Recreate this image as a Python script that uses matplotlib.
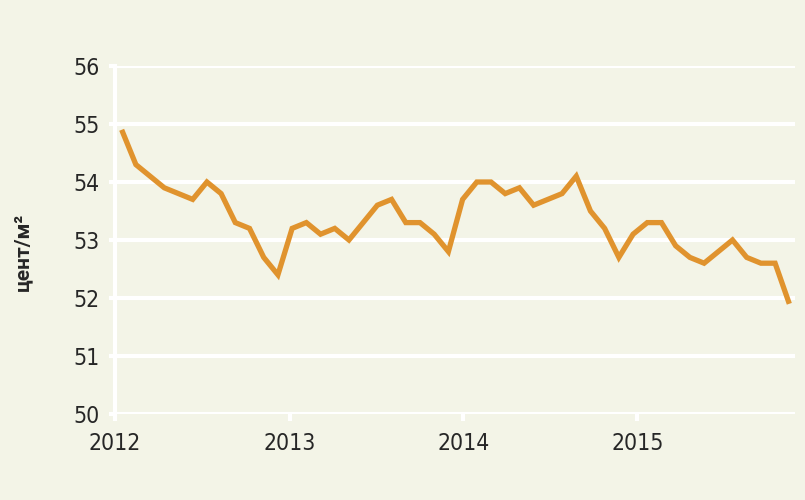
import matplotlib
matplotlib.use("Agg")
import matplotlib.pyplot as plt
from matplotlib import font_manager as fm

# Monthly values, Jan 2012 .. Dec 2015
values = [54.9, 54.3, 54.1, 53.9, 53.8, 53.7, 54.0, 53.8, 53.3, 53.2, 52.7, 52.4,
          53.2, 53.3, 53.1, 53.2, 53.0, 53.3, 53.6, 53.7, 53.3, 53.3, 53.1, 52.8,
          53.7, 54.0, 54.0, 53.8, 53.9, 53.6, 53.7, 53.8, 54.1, 53.5, 53.2, 52.7,
          53.1, 53.3, 53.3, 52.9, 52.7, 52.6, 52.8, 53.0, 52.7, 52.6, 52.6, 51.9]
year_labels = ["2012", "2013", "2014", "2015"]
y_ticks = [50, 51, 52, 53, 54, 55, 56]
y_label = "цент/м²"

months = list(range(len(values)))
year_tick_pos = [-0.47, 11.85, 24.04, 36.3]

bg = "#f3f4e7"
line_color = "#e0932e"

cond = [f for f in fm.fontManager.ttflist
        if ('Narrow' in f.name or 'Condensed' in f.name or 'ondensed' in f.fname)]
regs = [f for f in cond if not any(k in f.fname for k in ('Bold', 'Oblique', 'Italic', 'Light', 'Thin', 'Black', 'Medium'))]
bolds = [f for f in cond if 'Bold' in f.fname and not any(k in f.fname for k in ('Oblique', 'Italic'))]
if regs:
    fp = fm.FontProperties(fname=sorted(regs, key=lambda f: f.fname)[0].fname)
else:
    fp = fm.FontProperties(family='DejaVu Sans')

fig = plt.figure(figsize=(8.05, 5.0), dpi=100, facecolor=bg)
ax = fig.add_axes([115/805, 1-414/500, (795-115)/805, (414-66)/500])
ax.set_facecolor(bg)

ax.set_ylim(50, 56)
ax.set_xlim(-0.47, 47.4)
ax.set_yticks(y_ticks)
ax.set_xticks(year_tick_pos)
ax.set_xticklabels(year_labels)

ax.grid(axis='y', color='white', linewidth=3.0, zorder=1)
ax.set_axisbelow(True)

for s in ['top', 'right', 'bottom']:
    ax.spines[s].set_visible(False)
ax.spines['left'].set_color('white')
ax.spines['left'].set_linewidth(3.0)
ax.spines['left'].set_zorder(1)

ax.tick_params(axis='y', colors='white', length=4, width=3, pad=7,
               labelcolor='#262626')
ax.tick_params(axis='x', colors='white', length=5, width=3, pad=8,
               labelcolor='#262626')
for lab in ax.get_xticklabels() + ax.get_yticklabels():
    lab.set_fontproperties(fp)
    lab.set_fontsize(16.5)

ax.plot(months, values, color=line_color, linewidth=3.8, solid_joinstyle='miter',
        solid_capstyle='butt', zorder=3, clip_on=False)

fig.text(23/805, 1-252/500, y_label, rotation=90, ha='center', va='center',
         color='#262626', family=['Roboto', 'DejaVu Sans'], fontweight='bold',
         fontsize=15)

fig.savefig("out.png", dpi=100, facecolor=bg)
